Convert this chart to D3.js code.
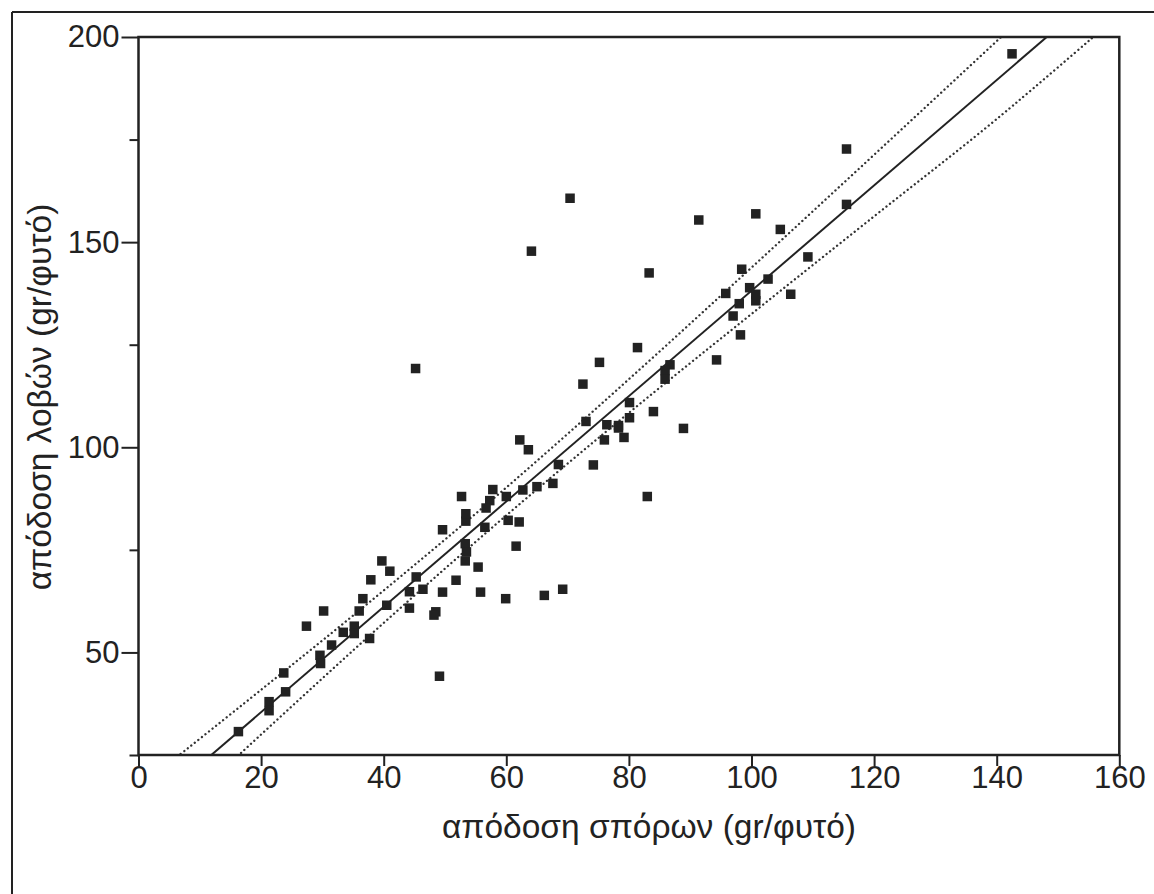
<!DOCTYPE html>
<html>
<head>
<meta charset="utf-8">
<script src="https://cdn.jsdelivr.net/npm/d3@7"></script>
<style>
  html, body { margin: 0; padding: 0; background: #fff; }
  svg { display: block; }
  text { font-family: "Liberation Sans", Arial, Helvetica, sans-serif; fill: #222; }
</style>
</head>
<body>
<svg id="chart" width="1154" height="894"></svg>
<script>
// ---- data ----
const seedYield = [16.3,21.3,21.3,24.0,23.7,27.4,30.2,29.6,29.7,31.5,33.4,35.2,35.2,36.0,36.6,37.9,37.7,39.7,41.0,40.5,
  45.3,44.2,46.4,44.2,49.6,53.4,56.5,60.3,62.1,61.6,48.5,48.2,53.3,53.5,53.3,55.4,51.8,49.6,55.8,59.9,
  66.2,69.2,49.1,45.2,81.4,75.2,72.5,86.7,85.9,85.9,80.1,80.1,84.0,88.9,73.0,76.4,78.3,78.3,76.0,79.2,
  74.2,83.0,62.2,63.6,68.5,67.6,65.0,62.7,57.8,52.7,60.0,57.3,56.7,53.4,70.4,64.1,91.4,100.7,104.7,83.3,
  98.4,95.8,99.7,102.7,142.5,115.5,115.5,109.2,106.4,100.7,100.7,98.0,97.0,98.2,94.3];
const podYield = [30.7,38.0,35.8,40.4,45.0,56.4,60.1,49.3,47.3,51.8,54.9,56.4,54.6,60.1,63.1,67.7,53.4,72.3,69.8,61.5,
  68.4,64.8,65.4,60.8,79.9,82.0,80.5,82.2,81.8,75.9,59.9,59.1,76.5,74.5,72.3,70.8,67.6,64.7,64.7,63.1,
  63.9,65.4,44.2,119.2,124.3,120.7,115.4,120.1,118.7,116.6,110.9,107.2,108.7,104.6,106.3,105.5,105.3,104.7,101.8,102.4,
  95.7,88.0,101.8,99.4,95.8,91.2,90.4,89.6,89.7,88.0,88.0,87.0,85.2,83.8,160.7,147.8,155.4,156.9,153.1,142.5,
  143.4,137.5,138.9,141.0,195.9,172.7,159.2,146.4,137.3,137.3,135.7,135.0,132.0,127.4,121.3];

// fitted line and confidence band
const fitX = [0, 160];
const fitY = [9.75, 215.2];
const bandX = [0, 20, 40, 60, 80, 100, 120, 140, 160];
const bandUpper = [17.1, 40.9, 65.1, 90.2, 116.6, 143.8, 171.3, 199.0, 226.8];
const bandLower = [2.4, 30.0, 57.2, 83.4, 108.4, 132.5, 156.3, 180.0, 205.5];

const xTicks = [0, 20, 40, 60, 80, 100, 120, 140, 160];
const yTicks = [50, 100, 150, 200];
const yMinorTicks = [25, 75, 125, 175];

const xTitle = "απόδοση σπόρων (gr/φυτό)";
const yTitle = "απόδοση λοβών (gr/φυτό)";

// ---- layout ----
const L = 138.5, R = 1119.3, T = 37, B = 755;
const ink = "#222";
const svg = d3.select("#chart");

const x = d3.scaleLinear().domain([0, 160]).range([L, R]);
const y = d3.scaleLinear().domain([25, 200]).range([B, T]);

// outer frame (only top and left visible)
svg.append("line").attr("x1", 12).attr("y1", 12).attr("x2", 1154).attr("y2", 12)
  .attr("stroke", ink).attr("stroke-width", 2);
svg.append("line").attr("x1", 12).attr("y1", 12).attr("x2", 12).attr("y2", 894)
  .attr("stroke", ink).attr("stroke-width", 2);

svg.append("clipPath").attr("id", "clip")
  .append("rect").attr("x", L).attr("y", T).attr("width", R - L).attr("height", B - T);

const plot = svg.append("g").attr("clip-path", "url(#clip)");

// band lines (dotted)
const bandLine = d3.line().x(d => x(d[0])).y(d => y(d[1])).curve(d3.curveCatmullRom);
[bandUpper, bandLower].forEach(arr => {
  plot.append("path")
    .attr("d", bandLine(bandX.map((v, i) => [v, arr[i]])))
    .attr("fill", "none").attr("stroke", "#333").attr("stroke-width", 2.3)
    .attr("stroke-linecap", "round").attr("stroke-dasharray", "0.1,4.4");
});

// fit line
plot.append("path")
  .attr("d", d3.line().x(d => x(d[0])).y(d => y(d[1]))(fitX.map((v, i) => [v, fitY[i]])))
  .attr("fill", "none").attr("stroke", ink).attr("stroke-width", 2);

// points
const sq = 9.5;
plot.selectAll("rect.pt").data(seedYield.map((v, i) => [v, podYield[i]]))
  .join("rect").attr("class", "pt")
  .attr("x", d => x(d[0]) - sq / 2).attr("y", d => y(d[1]) - sq / 2)
  .attr("width", sq).attr("height", sq).attr("fill", ink);

// plot frame
svg.append("rect").attr("x", L).attr("y", T).attr("width", R - L).attr("height", B - T)
  .attr("fill", "none").attr("stroke", ink).attr("stroke-width", 2.5);

// axes
const fs = 31;
const xAxis = svg.append("g").attr("transform", `translate(0,${B})`)
  .call(d3.axisBottom(x).tickValues(xTicks).tickSize(11).tickPadding(0).tickFormat(d3.format("d")));
const yAxis = svg.append("g").attr("transform", `translate(${L},0)`)
  .call(d3.axisLeft(y).tickValues(yTicks).tickSize(17).tickPadding(2).tickFormat(d3.format("d")));
const yMinor = svg.append("g").attr("transform", `translate(${L},0)`)
  .call(d3.axisLeft(y).tickValues(yMinorTicks).tickSize(9).tickFormat(""));

[xAxis, yAxis, yMinor].forEach(g => {
  g.select(".domain").remove();
  g.selectAll(".tick line").attr("stroke", ink).attr("stroke-width", 2);
  g.selectAll(".tick text").attr("font-size", fs).attr("fill", ink)
    .style("font-family", "'Liberation Sans', Arial, sans-serif");
});

// titles
svg.append("text").attr("x", 649).attr("y", 838).attr("text-anchor", "middle")
  .attr("font-size", 33.5).text(xTitle);
svg.append("text").attr("transform", "translate(51,397) rotate(-90)").attr("text-anchor", "middle")
  .attr("font-size", 33.5).text(yTitle);
</script>
</body>
</html>
